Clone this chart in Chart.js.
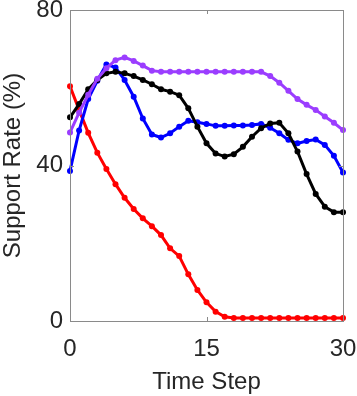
<!DOCTYPE html>
<html>
<head>
<meta charset="utf-8">
<script src="https://cdn.jsdelivr.net/npm/chart.js@4/dist/chart.umd.min.js"></script>
<style>
  html, body { margin: 0; padding: 0; background: #fff; }
  #wrap { width: 357px; height: 396px; }
</style>
</head>
<body>
<div id="wrap"><canvas id="chart" width="357" height="396"></canvas></div>
<script>
// time steps 0..30
const timeSteps = [0,1,2,3,4,5,6,7,8,9,10,11,12,13,14,15,16,17,18,19,20,21,22,23,24,25,26,27,28,29,30];

// support rate (%) per series
const redValues = [60.4,54.3,48.4,43.3,39.1,35.2,31.7,28.8,26.4,24.4,22.1,18.7,16.7,12.0,8.0,4.8,2.4,1.1,0.8,0.8,0.8,0.8,0.8,0.8,0.8,0.8,0.8,0.8,0.8,0.8,0.8];
const blueValues = [38.6,49.0,57.1,61.8,66.0,65.2,62.0,57.7,52.1,48.0,47.2,48.3,50.0,51.5,51.1,50.7,50.2,50.2,50.3,50.3,50.4,50.7,49.7,48.3,46.6,45.7,46.3,46.7,45.3,42.5,38.2];
const blackValues = [52.4,55.8,59.6,62.0,63.7,64.1,63.7,63.0,62.0,60.9,59.6,59.0,58.1,54.7,50.0,45.7,43.1,42.3,42.9,44.8,47.4,49.6,50.8,51.0,48.3,43.6,37.8,32.7,29.4,28.0,28.0];
const purpleValues = [48.5,53.6,58.2,62.3,65.0,67.1,67.8,66.9,65.7,64.4,64.1,64.1,64.1,64.1,64.1,64.1,64.1,64.1,64.1,64.1,64.1,64.1,63.0,61.3,59.2,57.1,55.6,54.3,52.6,51.0,49.1];

const xTicks = [0, 15, 30];
const yTicks = [0, 40, 80];

function toPoints(values) {
    return values.map((v, i) => ({ x: timeSteps[i], y: v }));
}

function makeSeries(values, color, order) {
    return {
        data: toPoints(values),
        borderColor: color,
        backgroundColor: color,
        borderWidth: 3,
        pointRadius: 3,
        pointBorderWidth: 0,
        pointBackgroundColor: color,
        tension: 0,
        clip: false,
        order: order
    };
}

// box around the plot with inward ticks (matlab look)
const boxPlugin = {
    id: 'box',
    afterDraw(chart) {
        const ctx = chart.ctx;
        const a = chart.chartArea;
        const xs = chart.scales.x;
        const ys = chart.scales.y;
        const len = 4;
        ctx.save();
        ctx.strokeStyle = '#8a8a8a';
        ctx.lineWidth = 1;
        ctx.strokeRect(a.left + 0.5, a.top + 0.5, a.right - a.left, a.bottom - a.top);
        ctx.beginPath();
        xTicks.forEach(t => {
            const px = Math.round(xs.getPixelForValue(t)) + 0.5;
            ctx.moveTo(px, a.bottom); ctx.lineTo(px, a.bottom - len);
            ctx.moveTo(px, a.top); ctx.lineTo(px, a.top + len);
        });
        yTicks.forEach(t => {
            const py = Math.round(ys.getPixelForValue(t)) + 0.5;
            ctx.moveTo(a.left, py); ctx.lineTo(a.left + len, py);
            ctx.moveTo(a.right, py); ctx.lineTo(a.right - len, py);
        });
        ctx.stroke();
        ctx.restore();
    }
};

const fontFamily = '"Liberation Sans", Arial, Helvetica, sans-serif';

new Chart(document.getElementById('chart'), {
    type: 'line',
    data: {
        datasets: [
            makeSeries(redValues, '#ff0000', 4),
            makeSeries(blueValues, '#0000ff', 3),
            makeSeries(blackValues, '#000000', 2),
            makeSeries(purpleValues, '#9b3dff', 1)
        ]
    },
    options: {
        responsive: false,
        animation: false,
        layout: { padding: { top: 10, right: 14, left: 0, bottom: 0 } },
        plugins: {
            legend: { display: false },
            tooltip: { enabled: false }
        },
        scales: {
            x: {
                type: 'linear',
                min: 0,
                max: 30,
                afterFit: s => {
                    s.height = 75;
                    s.paddingLeft = 0;
                    s.paddingRight = 0;
                },
                afterBuildTicks: s => { s.ticks = xTicks.map(v => ({ value: v })); },
                grid: { display: false, drawTicks: false },
                border: { display: false },
                ticks: {
                    padding: 14,
                    color: '#262626',
                    font: { family: fontFamily, size: 24 }
                },
                title: {
                    display: true,
                    text: 'Time Step',
                    color: '#262626',
                    font: { family: fontFamily, size: 24, lineHeight: 1 },
                    padding: { top: 0, bottom: 2 }
                }
            },
            y: {
                min: 0,
                max: 80,
                afterFit: s => {
                    s.width = 70;
                    s.paddingTop = 0;
                    s.paddingBottom = 0;
                },
                afterBuildTicks: s => { s.ticks = yTicks.map(v => ({ value: v })); },
                grid: { display: false, drawTicks: false },
                border: { display: false },
                ticks: {
                    padding: 7,
                    color: '#262626',
                    font: { family: fontFamily, size: 24 }
                },
                title: {
                    display: true,
                    text: 'Support Rate (%)',
                    color: '#262626',
                    font: { family: fontFamily, size: 24, lineHeight: 1 },
                    padding: { top: 1, bottom: 0 }
                }
            }
        }
    },
    plugins: [boxPlugin]
});
</script>
</body>
</html>
